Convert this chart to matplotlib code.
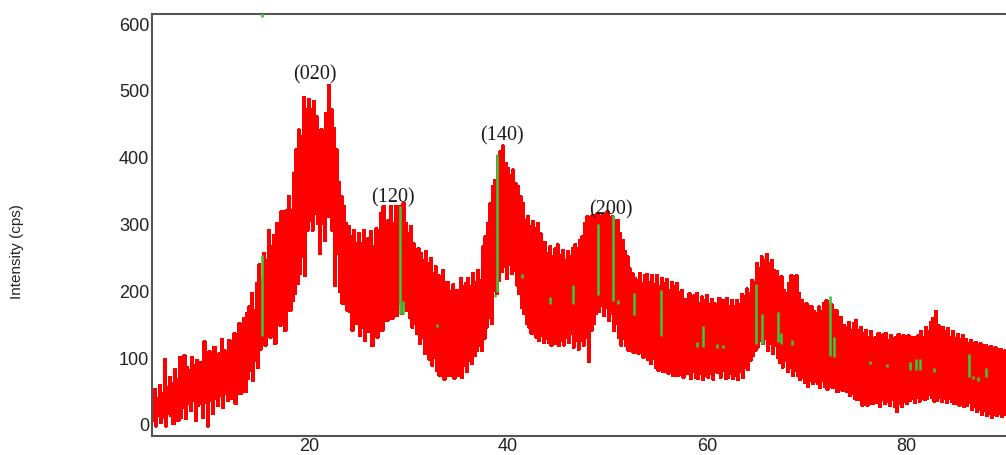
import numpy as np
import matplotlib.pyplot as plt

# XRD scan, 2-theta from 4 to 90.875 deg in 0.125 deg steps
two_theta = np.arange(4.0, 91.0, 0.125)
intensity = [
    45, -10, 30, 5, 52, -3, 38, 12,           # 4
    58, 2, 45, 10, 97, -3, 55, 15,            # 5
    70, 12, 60, 0, 82, 18, 66, 5,             # 6
    100, 10, 75, 25, 102, 8, 85, 30,          # 7
    80, 20, 100, 35, 88, 5, 95, 28,           # 8
    92, 30, 78, 10, 123, 32, 100, -3,         # 9
    108, 35, 90, 15, 115, 38, 96, 28,         # 10
    105, 42, 127, 25, 110, 45, 100, 35,       # 11
    125, 38, 110, 55, 135, 30, 128, 50,       # 12
    150, 45, 135, 60, 158, 48, 165, 68,       # 13
    175, 80, 195, 65, 170, 95, 210, 85,       # 14
    238, 112, 218, 128, 255, 118, 245, 140,   # 15
    290, 130, 265, 145, 282, 120, 300, 152,   # 16
    298, 148, 318, 162, 292, 140, 320, 175,   # 17
    340, 170, 320, 185, 375, 195, 410, 210,   # 18
    440, 225, 430, 250, 488, 222, 470, 290,   # 19
    486, 305, 470, 290, 482, 315, 460, 300,   # 20
    425, 255, 440, 300, 418, 275, 465, 310,   # 21
    506, 326, 470, 290, 442, 207, 410, 255,   # 22
    362, 198, 340, 180, 325, 200, 300, 170,   # 23
    296, 168, 280, 140, 290, 155, 270, 150,   # 24
    285, 132, 270, 145, 290, 125, 276, 138,   # 25
    278, 140, 288, 117, 265, 145, 292, 130,   # 26
    290, 150, 315, 140, 326, 160, 300, 155,   # 27
    305, 170, 325, 158, 300, 175, 326, 162,   # 28
    326, 180, 310, 165, 330, 175, 300, 170,   # 29
    285, 160, 295, 145, 270, 150, 260, 135,   # 30
    262, 120, 255, 130, 245, 105, 258, 118,   # 31
    240, 97, 248, 88, 225, 100, 235, 80,      # 32
    222, 72, 210, 85, 230, 67, 212, 78,       # 33
    212, 72, 198, 85, 208, 68, 200, 80,       # 34
    200, 72, 218, 70, 205, 88, 210, 78,       # 35
    218, 95, 205, 90, 225, 102, 212, 110,     # 36
    230, 118, 215, 110, 265, 128, 280, 145,   # 37
    300, 160, 330, 150, 355, 200, 365, 195,   # 38
    400, 215, 408, 228, 416, 235, 390, 218,   # 39
    382, 238, 372, 225, 380, 230, 360, 208,   # 40
    355, 195, 340, 175, 330, 165, 305, 150,   # 41
    310, 145, 295, 135, 303, 150, 292, 130,   # 42
    300, 125, 285, 132, 265, 122, 272, 128,   # 43
    255, 122, 265, 118, 250, 128, 262, 120,   # 44
    268, 117, 252, 125, 260, 118, 245, 130,   # 45
    258, 122, 250, 135, 262, 115, 268, 125,   # 46
    262, 112, 275, 125, 280, 118, 300, 130,   # 47
    310, 93, 295, 140, 312, 150, 300, 165,    # 48
    315, 168, 300, 178, 312, 162, 305, 175,   # 49
    318, 155, 302, 165, 310, 140, 305, 150,   # 50
    305, 130, 285, 118, 275, 128, 258, 117,   # 51
    250, 110, 232, 120, 225, 107, 218, 112,   # 52
    215, 106, 225, 112, 210, 100, 222, 108,   # 53
    224, 96, 212, 90, 222, 98, 208, 84,       # 54
    222, 80, 205, 92, 218, 78, 210, 88,       # 55
    216, 76, 200, 84, 212, 72, 205, 82,       # 56
    210, 72, 196, 80, 200, 70, 186, 78,       # 57
    182, 75, 195, 68, 180, 78, 192, 70,       # 58
    195, 68, 180, 76, 190, 66, 184, 72,       # 59
    192, 70, 178, 75, 186, 67, 180, 78,       # 60
    175, 77, 188, 70, 178, 80, 185, 68,       # 61
    188, 70, 176, 75, 185, 68, 175, 72,       # 62
    185, 66, 178, 78, 194, 70, 190, 84,       # 63
    202, 82, 195, 95, 215, 102, 212, 110,     # 64
    240, 115, 232, 125, 250, 120, 245, 128,   # 65
    254, 110, 240, 120, 245, 105, 230, 118,   # 66
    228, 100, 215, 92, 220, 85, 200, 95,      # 67
    195, 78, 210, 85, 222, 72, 208, 80,       # 68
    222, 72, 195, 66, 185, 70, 178, 62,       # 69
    180, 56, 170, 65, 176, 60, 168, 64,       # 70
    165, 60, 175, 55, 168, 65, 180, 56,       # 71
    184, 52, 170, 60, 178, 54, 165, 58,       # 72
    170, 48, 155, 55, 160, 50, 148, 52,       # 73
    145, 48, 152, 42, 140, 45, 150, 38,       # 74
    155, 36, 140, 40, 145, 28, 136, 34,       # 75
    140, 28, 130, 35, 138, 30, 128, 34,       # 76
    130, 32, 136, 26, 128, 36, 134, 30,       # 77
    135, 34, 125, 28, 133, 36, 128, 26,       # 78
    130, 18, 134, 30, 124, 26, 132, 34,       # 79
    126, 30, 132, 35, 122, 38, 130, 32,       # 80
    125, 40, 132, 34, 138, 42, 130, 36,       # 81
    145, 38, 138, 44, 152, 40, 158, 34,       # 82
    168, 35, 148, 40, 142, 33, 145, 38,       # 83
    138, 32, 143, 38, 130, 34, 138, 30,       # 84
    128, 35, 134, 28, 126, 33, 132, 26,       # 85
    126, 28, 120, 32, 125, 22, 118, 26,       # 86
    122, 18, 115, 22, 120, 14, 116, 20,       # 87
    118, 12, 112, 16, 116, 10, 110, 14,       # 88
    114, 12, 108, 16, 112, 11, 106, 14,       # 89
    110, 14, 106, 12, 110, 13, 108, 12,       # 90
]

# reference pattern sticks: position, bottom, top
stick_pos = [15.25, 15.25, 29.1, 29.4, 32.9, 38.7, 38.9, 41.4, 44.2, 46.5, 49.05, 50.55,
             51.05, 52.7, 55.4, 59.0, 59.6, 61.0, 61.6, 64.9, 65.5, 67.1, 67.4, 68.5,
             72.4, 72.8, 76.4, 78.1, 80.4, 81.0, 81.4, 82.8, 86.3, 86.7, 87.2, 88.0]
stick_lo = [132, 609, 165, 165, 145, 190, 197, 219, 180, 180, 193, 184,
            180, 163, 132, 115, 115, 114, 113, 120, 120, 122, 120, 118,
            102, 100, 89, 85, 81, 81, 81, 78, 70, 67, 65, 71]
stick_hi = [253, 620, 326, 184, 150, 195, 404, 225, 190, 208, 299, 313,
            185, 196, 200, 123, 147, 119, 118, 210, 165, 167, 136, 126,
            192, 130, 94, 89, 93, 97, 97, 83, 105, 72, 70, 83]

# peak labels
peak_labels = ["(020)", "(120)", "(140)", "(200)"]
peak_x = [20.6, 28.4, 39.4, 50.3]
peak_y = [524, 340, 433, 322]

plt.rcParams['font.family'] = ['Liberation Sans', 'DejaVu Sans']

fig = plt.figure(figsize=(10.06, 4.56), dpi=100)
ax = fig.add_axes([0.1511, 0.0417, 0.8489, 0.9254])

# step drawing, no antialiasing, so the noisy scan fills in like the original
ax.plot(two_theta, intensity, color="#ff0000", linewidth=1.5,
        drawstyle="steps-mid", antialiased=False, zorder=2)
ax.vlines(stick_pos, stick_lo, stick_hi, colors="#3ec43e", linewidth=1.9, zorder=3)

for lab, px, py in zip(peak_labels, peak_x, peak_y):
    ax.text(px, py, lab, ha="center", va="center", fontsize=14.5,
            family="Liberation Serif", color="#1a1a1a", zorder=4)

ax.set_xlim(4.22, 90.05)
ax.set_ylim(-18, 613.5)
ax.set_xticks([20, 40, 60, 80])
ax.set_yticks([0, 100, 200, 300, 400, 500, 600])
ax.tick_params(length=0, labelsize=13, labelcolor="#222222")
ax.tick_params(axis="y", pad=2)
ax.tick_params(axis="x", pad=1)

for side in ["left", "bottom", "top"]:
    ax.spines[side].set_color("#555555")
    ax.spines[side].set_linewidth(1.5)
ax.spines["right"].set_visible(False)

fig.text(0.017, 0.449, "Intensity (cps)", rotation=90, ha="center", va="center",
         fontsize=11, color="#222222")

fig.savefig("out.png", dpi=100)
